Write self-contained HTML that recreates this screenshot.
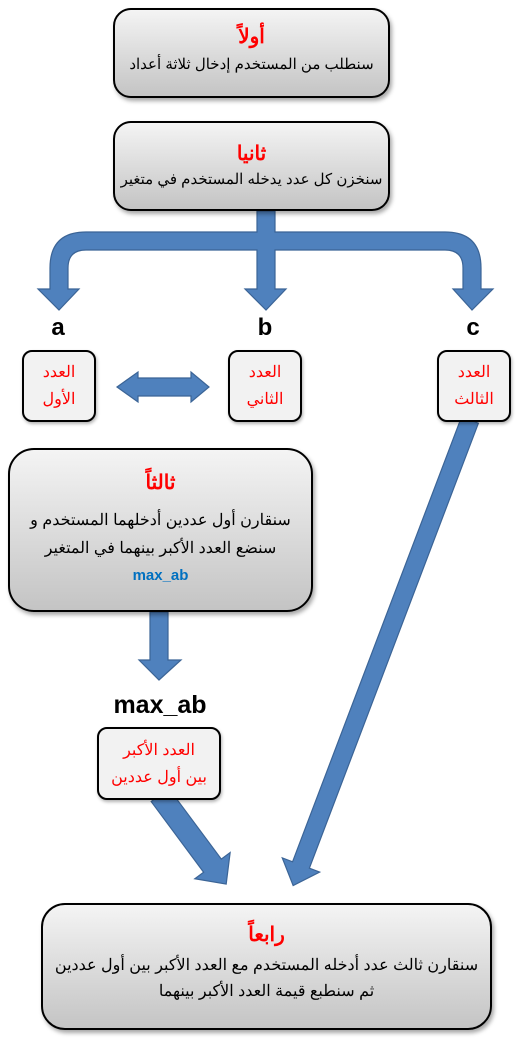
<!DOCTYPE html>
<html><head><meta charset="utf-8"><style>
body{margin:0;width:518px;height:1042px;background:#fff;position:relative;overflow:hidden;font-family:"Liberation Sans","Noto Sans CJK SC",sans-serif}
.box{position:absolute;box-sizing:border-box;border:2px solid #000;background:linear-gradient(#f4f4f4,#c4c4c4);text-align:center;direction:rtl;box-shadow:2px 3px 4px rgba(0,0,0,.35)}
.sm{position:absolute;box-sizing:border-box;border:2.5px solid #000;border-radius:10px;background:#f2f2f2;color:#f00;text-align:center;direction:rtl;font-size:16px;line-height:27px;padding-top:7px;box-shadow:1px 2px 3px rgba(0,0,0,.3)}
.t{color:#f00;font-weight:bold;font-size:20px}
.l{font-size:16px;color:#000;white-space:nowrap}
.lab{position:absolute;font-weight:bold;font-size:24px;text-align:center;width:80px}
svg{position:absolute;left:0;top:0}
</style></head><body>
<svg width="518" height="1042">
<g fill="#4f81bd" stroke="#3b6496" stroke-width="1.2">
<path d="M257 211 H275 V232 H445 Q481 232 481 268 V289 H493 L472 310 L453 289 H463 V268 Q463 250 445 250 H275 V289 H286 L266 310 L245 289 H257 V250 H86 Q68 250 68 268 V289 H79 L59 310 L38 289 H50 V268 Q50 232 86 232 H257 Z"/>
<polygon points="117,387 138,372 138,378 191,378 191,372 209,387 191,402 191,396 138,396 138,402"/>
<polygon points="150,612 168,612 168,660 181,660 159,680 139,660 150,660"/>
<g transform="translate(470,420) rotate(110.8)"><polygon points="0,-9 476,-9 476,-20 498,0 476,20 476,9 0,9"/></g>
<g transform="translate(160,795) rotate(53.4)"><polygon points="0,-11 88,-11 88,-22 111,0 88,22 88,11 0,11"/></g>
</g></svg>
<div class="box" style="left:113px;top:8px;width:277px;height:90px;border-radius:18px;padding-top:14px"><div class="t">أولاً</div><div class="l" style="margin-top:6px;font-size:15px">سنطلب من المستخدم إدخال ثلاثة أعداد</div></div>
<div class="box" style="left:113px;top:121px;width:277px;height:90px;border-radius:18px;padding-top:18px"><div class="t">ثانيا</div><div class="l" style="margin-top:4px;font-size:15px">سنخزن كل عدد يدخله المستخدم في متغير</div></div>
<div class="lab" style="left:18px;top:314px">a</div>
<div class="lab" style="left:225px;top:314px">b</div>
<div class="lab" style="left:433px;top:314px">c</div>
<div class="sm" style="left:22px;top:350px;width:74px;height:72px">العدد<br>الأول</div>
<div class="sm" style="left:228px;top:350px;width:74px;height:72px">العدد<br>الثاني</div>
<div class="sm" style="left:437px;top:350px;width:74px;height:72px">العدد<br>الثالث</div>
<div class="box" style="left:8px;top:448px;width:305px;height:164px;border-radius:26px;padding-top:20px"><div class="t">ثالثاً</div><div class="l" style="margin-top:12px;line-height:28px">سنقارن أول عددين أدخلهما المستخدم و<br>سنضع العدد الأكبر بينهما في المتغير</div><div style="color:#0070c0;font-weight:bold;font-size:15px;margin-top:4px;direction:ltr">max_ab</div></div>
<div class="lab" style="left:110px;top:691px;width:100px;font-size:25px">max_ab</div>
<div class="sm" style="left:97px;top:727px;width:124px;height:73px;padding-top:8px">العدد الأكبر<br>بين أول عددين</div>
<div class="box" style="left:41px;top:903px;width:451px;height:127px;border-radius:24px;padding-top:17px"><div class="t">رابعاً</div><div class="l" style="margin-top:6px;line-height:26px">سنقارن ثالث عدد أدخله المستخدم مع العدد الأكبر بين أول عددين<br>ثم سنطبع قيمة العدد الأكبر بينهما</div></div>
</body></html>
